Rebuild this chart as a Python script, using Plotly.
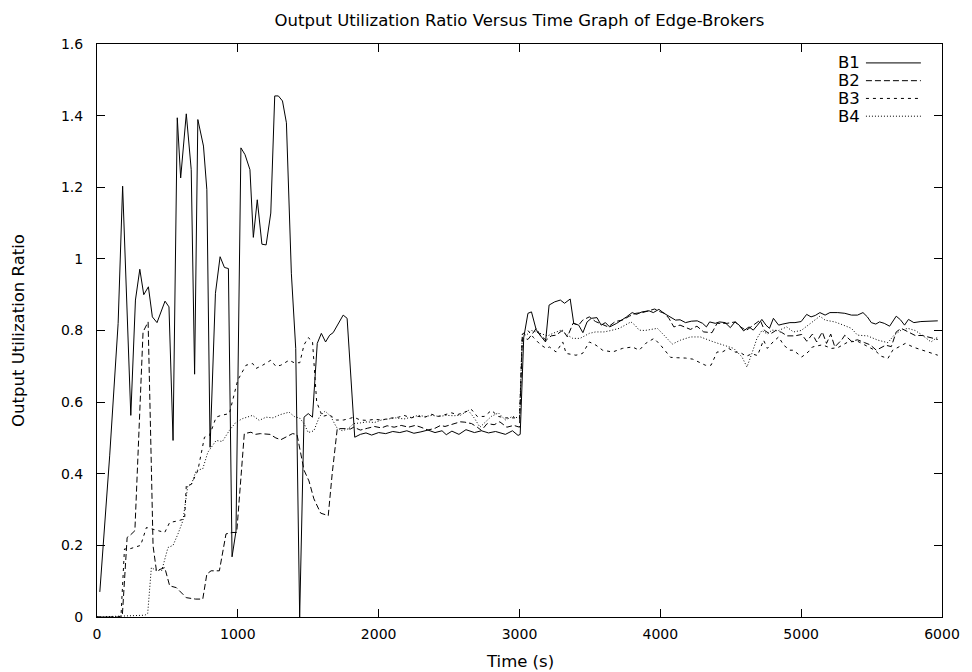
import plotly.graph_objects as go

title_text = "Output Utilization Ratio Versus Time Graph of Edge-Brokers"
x_label = "Time (s)"
y_label = "Output Utilization Ratio"
series_names = ["B1", "B2", "B3", "B4"]
x_ticks = [0, 1000, 2000, 3000, 4000, 5000, 6000]
y_ticks = [0, 0.2, 0.4, 0.6, 0.8, 1.0, 1.2, 1.4, 1.6]
y_tick_labels = ["0", "0.2", "0.4", "0.6", "0.8", "1", "1.2", "1.4", "1.6"]

t_b1 = [20, 90, 150, 182, 240, 273, 304, 332, 365, 393, 426, 483, 511, 540, 570, 594, 634, 669, 693, 716,
        756, 780, 803, 841, 874, 905, 933, 959, 987, 1022, 1051, 1086, 1110, 1138, 1171, 1201, 1234, 1262,
        1288, 1317, 1345, 1380, 1411, 1439, 1470, 1500, 1530, 1564, 1593, 1623, 1652, 1677, 1748, 1776,
        1830, 1870, 1910, 1950, 2000, 2050, 2100, 2150, 2200, 2250, 2300, 2350, 2400, 2450, 2480, 2520,
        2570, 2620, 2680, 2730, 2780, 2830, 2900, 2950, 2990, 3005, 3030, 3060, 3085, 3120, 3160, 3185,
        3210, 3250, 3290, 3320, 3360, 3385, 3420, 3450, 3480, 3510, 3550, 3580, 3610, 3640, 3690, 3730,
        3760, 3800, 3830, 3870, 3920, 3950, 3990, 4026, 4060, 4108, 4140, 4179, 4220, 4262, 4300, 4327,
        4350, 4390, 4420, 4460, 4497, 4530, 4560, 4591, 4630, 4660, 4690, 4721, 4750, 4775, 4803, 4840,
        4870, 4920, 4956, 5000, 5039, 5070, 5100, 5133, 5170, 5204, 5260, 5310, 5357, 5400, 5439, 5470,
        5498, 5530, 5557, 5590, 5628, 5675, 5705, 5734, 5762, 5800, 5850, 5900, 5940, 5970]
v_b1 = [0.07, 0.45, 0.82, 1.203, 0.563, 0.885, 0.971, 0.90, 0.922, 0.838, 0.822, 0.882, 0.866, 0.493, 1.394,
        1.226, 1.405, 1.249, 0.678, 1.389, 1.315, 1.193, 0.474, 0.904, 1.006, 0.976, 0.973, 0.168, 0.24,
        1.31, 1.291, 1.249, 1.06, 1.165, 1.041, 1.039, 1.128, 1.455, 1.455, 1.441, 1.38, 0.96, 0.75, 0.0,
        0.558, 0.568, 0.558, 0.764, 0.792, 0.768, 0.787, 0.794, 0.843, 0.834,
        0.502, 0.51, 0.514, 0.508, 0.515, 0.512, 0.518, 0.515, 0.52, 0.513, 0.517, 0.522, 0.515, 0.52,
        0.509, 0.519, 0.51, 0.523, 0.515, 0.52, 0.514, 0.518, 0.51, 0.52, 0.507, 0.51, 0.78, 0.848, 0.852,
        0.80, 0.78, 0.768, 0.871, 0.88, 0.885, 0.876, 0.888, 0.82, 0.815, 0.794, 0.824, 0.834, 0.836,
        0.815, 0.822, 0.81, 0.82, 0.83, 0.838, 0.85, 0.845, 0.852, 0.855, 0.85, 0.859, 0.848, 0.84, 0.829,
        0.83, 0.822, 0.826, 0.827, 0.82, 0.81, 0.824, 0.82, 0.824, 0.822, 0.808, 0.824, 0.815, 0.799, 0.81,
        0.801, 0.815, 0.831, 0.815, 0.806, 0.834, 0.815, 0.818, 0.822, 0.822, 0.825, 0.845, 0.838, 0.842,
        0.85, 0.843, 0.85, 0.85, 0.848, 0.843, 0.843, 0.85, 0.838, 0.822, 0.818, 0.824, 0.82, 0.812, 0.84,
        0.83, 0.815, 0.831, 0.822, 0.825, 0.826, 0.825, 0.827]

t_b2 = [0, 150, 180, 214, 240, 269, 327, 363, 386, 398, 422, 481, 516, 563, 634, 700, 751, 780, 810, 869,
        916, 959, 992, 1046, 1093, 1124, 1160, 1194, 1229, 1270, 1305, 1364, 1388, 1420, 1450, 1470, 1505,
        1540, 1588, 1642, 1670, 1706, 1764, 1800, 1823, 1870, 1920, 1970, 2020, 2060, 2110, 2160, 2212,
        2260, 2300, 2350, 2400, 2440, 2471, 2530, 2580, 2612, 2660, 2700, 2730, 2770, 2820, 2860, 2910,
        2960, 3000, 3020, 3060, 3090, 3119, 3150, 3190, 3225, 3260, 3307, 3340, 3380, 3420, 3449, 3496,
        3540, 3580, 3630, 3680, 3731, 3780, 3826, 3873, 3920, 3960, 4000, 4030, 4061, 4096, 4140, 4180,
        4214, 4260, 4308, 4367, 4403, 4474, 4532, 4570, 4610, 4650, 4709, 4740, 4780, 4820, 4860, 4900,
        4956, 5004, 5040, 5080, 5110, 5150, 5180, 5210, 5239, 5290, 5310, 5357, 5400, 5451, 5490, 5534,
        5570, 5600, 5640, 5675, 5710, 5760, 5810, 5860, 5920, 5970]
v_b2 = [0.0, 0.0, 0.005, 0.222, 0.23, 0.241, 0.796, 0.824, 0.418, 0.199, 0.129, 0.138, 0.087, 0.082, 0.054,
        0.05, 0.05, 0.12, 0.129, 0.129, 0.232, 0.236, 0.236, 0.512, 0.516, 0.51, 0.512, 0.512, 0.51, 0.50,
        0.495, 0.507, 0.512, 0.51, 0.45, 0.41, 0.38, 0.33, 0.29, 0.283, 0.40, 0.526, 0.526, 0.525, 0.53,
        0.522, 0.527, 0.532, 0.528, 0.534, 0.53, 0.535, 0.53, 0.535, 0.53, 0.522, 0.527, 0.535, 0.532, 0.54,
        0.545, 0.544, 0.54, 0.53, 0.521, 0.54, 0.537, 0.545, 0.53, 0.535, 0.53, 0.78, 0.775, 0.79, 0.806,
        0.785, 0.773, 0.785, 0.787, 0.801, 0.782, 0.82, 0.815, 0.829, 0.838, 0.825, 0.818, 0.81, 0.825,
        0.829, 0.84, 0.848, 0.85, 0.855, 0.86, 0.852, 0.848, 0.834, 0.81, 0.815, 0.808, 0.803, 0.812, 0.796,
        0.794, 0.82, 0.82, 0.824, 0.81, 0.80, 0.812, 0.829, 0.80, 0.79, 0.80, 0.795, 0.785, 0.785, 0.789,
        0.77, 0.79, 0.768, 0.796, 0.764, 0.79, 0.754, 0.775, 0.787, 0.77, 0.774, 0.766, 0.76, 0.745, 0.752,
        0.759, 0.755, 0.796, 0.806, 0.796, 0.786, 0.786, 0.78, 0.775]

t_b3 = [0, 170, 195, 230, 270, 310, 351, 400, 440, 481, 516, 570, 622, 634, 669, 716, 763, 799, 846, 881,
        940, 963, 999, 1058, 1105, 1129, 1176, 1234, 1270, 1305, 1364, 1400, 1440, 1470, 1500, 1530, 1560,
        1600, 1650, 1700, 1750, 1800, 1823, 1870, 1920, 1970, 2020, 2080, 2141, 2180, 2230, 2280, 2330,
        2377, 2420, 2470, 2518, 2560, 2610, 2660, 2700, 2750, 2801, 2850, 2900, 2950, 3000, 3020, 3060,
        3100, 3150, 3190, 3213, 3260, 3307, 3331, 3401, 3448, 3496, 3543, 3590, 3661, 3731, 3802, 3850,
        3896, 3955, 4000, 4073, 4120, 4180, 4230, 4273, 4320, 4360, 4403, 4440, 4485, 4530, 4570, 4610,
        4650, 4690, 4733, 4760, 4800, 4840, 4876, 4920, 4945, 5004, 5050, 5080, 5150, 5216, 5260, 5333,
        5400, 5450, 5522, 5570, 5616, 5650, 5710, 5740, 5800, 5850, 5900, 5970]
v_b3 = [0.0, 0.0, 0.19, 0.19, 0.195, 0.2, 0.25, 0.245, 0.24, 0.236, 0.264, 0.268, 0.274, 0.367, 0.37, 0.409,
        0.502, 0.507, 0.558, 0.563, 0.568, 0.605, 0.661, 0.703, 0.708, 0.694, 0.703, 0.717, 0.70, 0.703,
        0.717, 0.71, 0.71, 0.76, 0.78, 0.77, 0.60, 0.56, 0.565, 0.55, 0.55, 0.555, 0.558, 0.55, 0.549, 0.552,
        0.55, 0.555, 0.558, 0.563, 0.556, 0.56, 0.558, 0.566, 0.56, 0.565, 0.57, 0.565, 0.572, 0.579, 0.56,
        0.56, 0.577, 0.56, 0.556, 0.555, 0.556, 0.79, 0.80, 0.78, 0.76, 0.75, 0.754, 0.74, 0.768, 0.736,
        0.731, 0.736, 0.768, 0.759, 0.745, 0.74, 0.75, 0.754, 0.745, 0.764, 0.778, 0.76, 0.725, 0.724, 0.723,
        0.72, 0.712, 0.703, 0.703, 0.74, 0.74, 0.75, 0.74, 0.738, 0.728, 0.735, 0.73, 0.773, 0.75, 0.768,
        0.782, 0.759, 0.745, 0.745, 0.726, 0.74, 0.754, 0.76, 0.75, 0.752, 0.768, 0.77, 0.76, 0.745, 0.728,
        0.722, 0.745, 0.759, 0.764, 0.753, 0.747, 0.74, 0.731]

t_b4 = [0, 340, 360, 386, 420, 460, 504, 540, 575, 610, 645, 670, 704, 751, 787, 846, 890, 940, 987, 1034,
        1105, 1152, 1200, 1250, 1300, 1364, 1400, 1440, 1470, 1500, 1540, 1580, 1620, 1660, 1700, 1740,
        1780, 1823, 1870, 1920, 1970, 2020, 2070, 2120, 2180, 2230, 2283, 2330, 2380, 2430, 2480, 2530,
        2580, 2636, 2680, 2719, 2760, 2800, 2850, 2900, 2950, 3000, 3020, 3049, 3085, 3119, 3160, 3200,
        3237, 3296, 3330, 3378, 3430, 3496, 3540, 3600, 3650, 3708, 3750, 3791, 3820, 3849, 3890, 3908,
        3979, 4026, 4085, 4143, 4214, 4285, 4330, 4379, 4450, 4521, 4580, 4615, 4650, 4686, 4721, 4760,
        4792, 4840, 4897, 4945, 5000, 5050, 5097, 5133, 5170, 5239, 5300, 5357, 5400, 5470, 5545, 5616,
        5660, 5710, 5757, 5810, 5860, 5922, 5970]
v_b4 = [0.0, 0.005, 0.01, 0.138, 0.13, 0.13, 0.194, 0.2, 0.232, 0.269, 0.367, 0.37, 0.409, 0.414, 0.46, 0.493,
        0.49, 0.521, 0.544, 0.554, 0.563, 0.549, 0.558, 0.556, 0.565, 0.572, 0.56, 0.555, 0.54, 0.515, 0.52,
        0.56, 0.575, 0.56, 0.53, 0.52, 0.525, 0.54, 0.542, 0.545, 0.543, 0.55, 0.553, 0.556, 0.553, 0.558,
        0.563, 0.56, 0.563, 0.56, 0.563, 0.562, 0.563, 0.577, 0.555, 0.53, 0.545, 0.56, 0.57, 0.55, 0.56,
        0.555, 0.79, 0.787, 0.80, 0.796, 0.79, 0.785, 0.792, 0.801, 0.79, 0.778, 0.778, 0.792, 0.796, 0.796,
        0.80, 0.806, 0.815, 0.824, 0.815, 0.801, 0.80, 0.801, 0.806, 0.787, 0.762, 0.773, 0.782, 0.782,
        0.775, 0.768, 0.759, 0.75, 0.726, 0.698, 0.736, 0.778, 0.80, 0.79, 0.801, 0.80, 0.81, 0.796, 0.80,
        0.815, 0.829, 0.84, 0.829, 0.824, 0.815, 0.806, 0.787, 0.785, 0.773, 0.766, 0.787, 0.801, 0.806,
        0.80, 0.787, 0.768, 0.782]

series_t = [t_b1, t_b2, t_b3, t_b4]
series_v = [v_b1, v_b2, v_b3, v_b4]
dashes = ["solid", "6px,3px", "3px,4px", "1px,2px"]

FONT = "DejaVu Sans, Liberation Sans, Arial, sans-serif"
TXT = 16.5

fig = go.Figure()
for name, t, v, d in zip(series_names, series_t, series_v, dashes):
    fig.add_trace(go.Scatter(x=t, y=v, mode="lines", name=name, showlegend=False,
                             line=dict(color="#000000", width=1, dash=d)))

# gnuplot-style key: label on the left, sample line on the right
key_y = [0.967, 0.936, 0.905, 0.874]
for name, ky, d in zip(series_names, key_y, dashes):
    fig.add_annotation(x=0.905, y=ky, xref="paper", yref="paper", text=name, showarrow=False,
                       xanchor="right", yanchor="middle", font=dict(family=FONT, size=TXT, color="#000"))
    fig.add_shape(type="line", xref="paper", yref="paper", x0=0.910, x1=0.975, y0=ky, y1=ky,
                  line=dict(color="#000", width=1, dash=d))

fig.add_annotation(x=0.5, y=-0.077, xref="paper", yref="paper", text=x_label, showarrow=False,
                   xanchor="center", yanchor="middle", font=dict(family=FONT, size=TXT, color="#000"))
fig.add_annotation(x=-0.093, y=0.5, xref="paper", yref="paper", text=y_label, showarrow=False,
                   textangle=-90, xanchor="center", yanchor="middle",
                   font=dict(family=FONT, size=TXT, color="#000"))

axis_common = dict(showgrid=False, zeroline=False, showline=True, linecolor="#000", linewidth=1,
                   ticks="inside", ticklen=8, tickcolor="#000", mirror="allticks",
                   tickfont=dict(family=FONT, size=14, color="#000"))

fig.update_layout(
    width=972, height=672,
    margin=dict(l=97, r=26, t=44, b=55),
    paper_bgcolor="white", plot_bgcolor="white",
    title=dict(text=title_text, x=0.5, xref="paper", xanchor="center", y=1 - 20 / 672,
               yanchor="middle", yref="container", font=dict(family=FONT, size=TXT, color="#000")),
    xaxis=dict(range=[0, 6000], tickvals=x_ticks, ticktext=[str(x) for x in x_ticks],
               ticklabelstandoff=4, **axis_common),
    yaxis=dict(range=[0, 1.6], tickvals=y_ticks, ticktext=y_tick_labels,
               ticklabelstandoff=10, **axis_common),
)

fig.write_html("out.html")
